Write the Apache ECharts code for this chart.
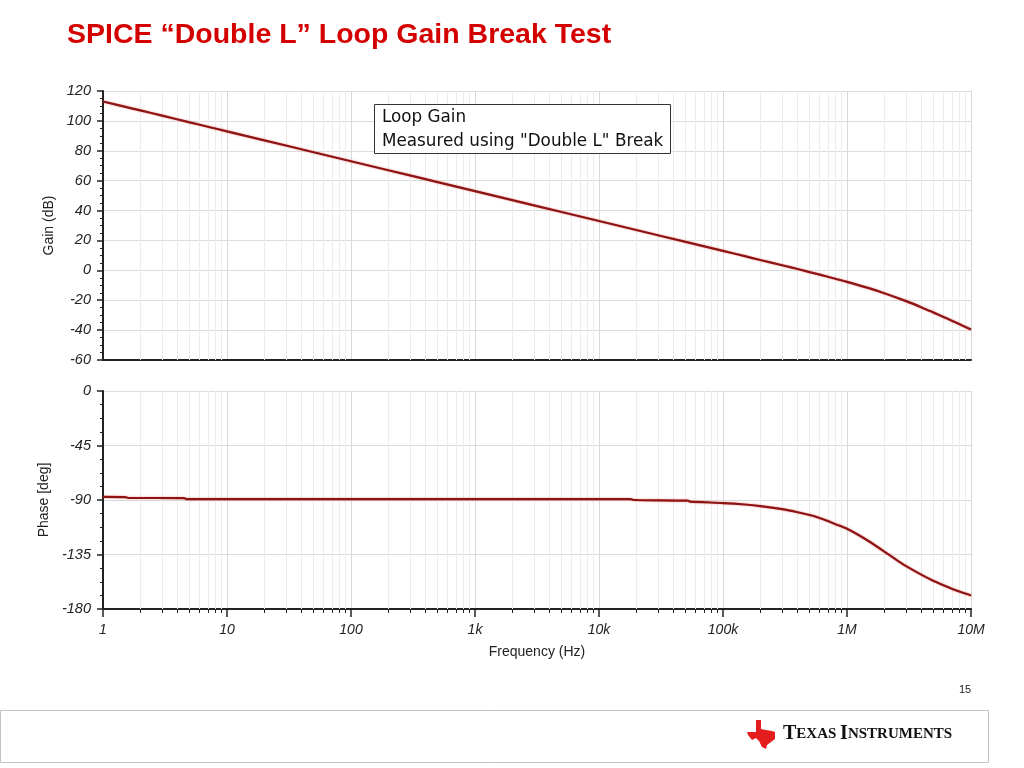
<!DOCTYPE html>
<html>
<head>
<meta charset="utf-8">
<script src="https://cdn.jsdelivr.net/npm/echarts@6/dist/echarts.min.js"></script>
<style>
  html, body { margin: 0; padding: 0; background: #fff; }
  #chart { width: 1024px; height: 768px; }
</style>
</head>
<body>
<div id="chart"></div>
<script>
// frequency points (Hz) and values
const gainFreq = [1, 1.7, 2, 3, 5, 7, 10, 20, 50, 100, 200, 500, 1e3, 2e3, 5e3, 1e4, 2e4, 5e4, 1e5, 1.5e5, 2e5, 3e5, 4e5, 5e5, 7e5, 1e6, 1.5e6, 2e6, 3e6, 4e6, 5e6, 6e6, 7e6, 8.5e6, 1e7];
const gainDb = [113, 108.4, 107, 103.5, 99, 96.1, 93, 87, 79, 73, 67, 59, 53, 47, 39, 33, 27, 19, 13, 9.5, 6.9, 3.4, 0.9, -1.2, -4.3, -7.7, -11.9, -15.3, -20.6, -24.8, -28.3, -31.2, -33.7, -36.9, -39.6];

const phaseFreq = [1, 1.5, 1.6, 4.5, 4.7, 10, 100, 1e3, 1e4, 1.8e4, 1.9e4, 5.2e4, 5.4e4, 1e5, 1.5e5, 2e5, 3e5, 4e5, 5e5, 6e5, 7e5, 8.5e5, 1e6, 1.2e6, 1.5e6, 2e6, 2.5e6, 3e6, 4e6, 5e6, 6e6, 7e6, 8.5e6, 1e7];
const phaseDeg = [-87.5, -87.6, -88.3, -88.4, -89.2, -89.2, -89.2, -89.2, -89.2, -89.3, -90.0, -90.5, -91.3, -92.5, -93.7, -95, -97.6, -100.1, -102.4, -104.8, -107.3, -110.8, -113.8, -118.1, -124.1, -132.6, -139.4, -144.6, -151.8, -156.8, -160.4, -163.2, -166.4, -168.8];

const xTickLabels = ['1', '10', '100', '1k', '10k', '100k', '1M', '10M'];
const gainTicks = [-60, 120, 20];   // min, max, interval
const phaseTicks = [-180, 0, 45];

// log-grid minor positions 2..9 per decade
const minorFreq = [];
for (let d = 1; d < 1e7; d *= 10) {
    for (let k = 2; k <= 9; k++) minorFreq.push(k * d);
}

const chart = echarts.init(document.getElementById('chart'));

const lineColor = '#8e1414';
const font = 'Liberation Sans, Arial, sans-serif';
const labelStyle = { color: '#222', fontSize: 14.5, fontStyle: 'italic', fontFamily: font };
const nameStyle = { color: '#222', fontSize: 14, fontFamily: font };
const minorLines = {
    silent: true,
    z: 1,
    symbol: 'none',
    label: { show: false },
    lineStyle: { color: '#ececec', type: 'solid', width: 1 },
    data: minorFreq.map(f => ({ xAxis: f }))
};

const option = {
    animation: false,
    title: {
        text: 'SPICE \u201cDouble L\u201d Loop Gain Break Test',
        left: 62,
        top: 16,
        textStyle: { color: '#d40000', fontSize: 28.5, fontWeight: 'bold', fontFamily: font }
    },
    grid: [
        { left: 103, right: 53, top: 91, height: 269 },
        { left: 103, right: 53, top: 391, height: 218 }
    ],
    xAxis: [
        {
            type: 'log', gridIndex: 0, min: 1, max: 1e7, logBase: 10, splitNumber: 7,
            axisLine: { onZero: false, lineStyle: { color: '#222', width: 2 } },
            axisTick: { show: false },
            axisLabel: { show: false },
            splitLine: { show: true, lineStyle: { color: '#d8d8d8' } }
        },
        {
            type: 'log', gridIndex: 1, min: 1, max: 1e7, logBase: 10, splitNumber: 7,
            position: 'bottom',
            name: 'Frequency (Hz)', nameLocation: 'middle', nameGap: 36,
            nameTextStyle: nameStyle,
            axisLine: { onZero: false, lineStyle: { color: '#222', width: 2 } },
            axisTick: { show: true, length: 8, lineStyle: { color: '#222', width: 1.5 } },
            axisLabel: Object.assign({}, labelStyle, {
                fontSize: 14,
                margin: 14,
                formatter: v => xTickLabels[Math.round(Math.log10(v))]
            }),
            splitLine: { show: true, lineStyle: { color: '#d8d8d8' } }
        },
        {
            type: 'log', gridIndex: 1, min: 1, max: 1e7, logBase: 10,
            position: 'bottom', offset: 0,
            axisLine: { show: false, onZero: false },
            axisTick: { show: true, length: 4, customValues: minorFreq, lineStyle: { color: '#222', width: 1 } },
            axisLabel: { show: false },
            splitLine: { show: false }
        }
    ],
    yAxis: [
        {
            type: 'value', gridIndex: 0, min: gainTicks[0], max: gainTicks[1], interval: gainTicks[2],
            name: 'Gain (dB)', nameLocation: 'middle', nameGap: 44,
            nameTextStyle: nameStyle,
            axisLine: { show: true, lineStyle: { color: '#222', width: 2 } },
            axisTick: { show: true, length: 6, lineStyle: { color: '#222', width: 1.5 } },
            minorTick: { show: true, splitNumber: 4, length: 3, lineStyle: { color: '#222' } },
            axisLabel: Object.assign({}, labelStyle, { margin: 12 }),
            splitLine: { show: true, lineStyle: { color: '#dcdcdc' } }
        },
        {
            type: 'value', gridIndex: 1, min: phaseTicks[0], max: phaseTicks[1], interval: phaseTicks[2],
            name: 'Phase [deg]', nameLocation: 'middle', nameGap: 44,
            nameTextStyle: nameStyle,
            axisLine: { show: true, lineStyle: { color: '#222', width: 2 } },
            axisTick: { show: true, length: 6, lineStyle: { color: '#222', width: 1.5 } },
            minorTick: { show: true, splitNumber: 4, length: 3, lineStyle: { color: '#222' } },
            axisLabel: Object.assign({}, labelStyle, { margin: 12 }),
            splitLine: { show: true, lineStyle: { color: '#dcdcdc' } }
        }
    ],
    series: [
        {
            name: 'Gain', type: 'line', xAxisIndex: 0, yAxisIndex: 0, z: 3,
            showSymbol: false, smooth: 0.3,
            lineStyle: { color: lineColor, width: 2.2, shadowColor: 'rgba(220,40,40,0.5)', shadowBlur: 2 },
            data: gainFreq.map((f, i) => [f, gainDb[i]]),
            markLine: minorLines
        },
        {
            name: 'Phase', type: 'line', xAxisIndex: 1, yAxisIndex: 1, z: 3,
            showSymbol: false, smooth: 0.2,
            lineStyle: { color: lineColor, width: 2.2, shadowColor: 'rgba(220,40,40,0.5)', shadowBlur: 2 },
            data: phaseFreq.map((f, i) => [f, phaseDeg[i]]),
            markLine: minorLines
        }
    ],
    graphic: [
        {
            type: 'rect', left: 374, top: 104, z: 10,
            shape: { width: 296, height: 49 },
            style: { fill: '#fff', stroke: '#333', lineWidth: 1 }
        },
        {
            type: 'text', left: 382, top: 109, z: 11,
            style: { text: 'Loop Gain', fill: '#111', font: '16.8px "DejaVu Sans", sans-serif' }
        },
        {
            type: 'text', left: 382, top: 133, z: 11,
            style: { text: 'Measured using "Double L" Break', fill: '#111', font: '16.8px "DejaVu Sans", sans-serif' }
        },
        {
            type: 'text', left: 959, top: 684,
            style: { text: '15', fill: '#222', font: '11px "Liberation Sans", Arial, sans-serif' }
        },
        {
            type: 'rect', left: -2, top: 708,
            shape: { width: 988, height: 52 },
            style: { fill: 'none', stroke: '#c4c4c4', lineWidth: 1 }
        },
        {
            type: 'polygon', left: 747, top: 720,
            shape: {
                points: [[9, 0], [14, 0], [14, 9], [19, 10], [25, 11], [28, 12], [28, 19], [24, 22], [20, 25], [19, 29], [15, 27], [12, 21], [9, 18], [5, 20], [1, 15], [0, 12], [9, 12]]
            },
            style: { fill: '#e41e1e' }
        },
        {
            type: 'text', left: 783, top: 724,
            style: {
                text: '{b|T}{s|EXAS }{b|I}{s|NSTRUMENTS}',
                rich: {
                    b: { fontSize: 20, fontWeight: 'bold', fill: '#111', fontFamily: 'Liberation Serif, serif' },
                    s: { fontSize: 15, fontWeight: 'bold', fill: '#111', fontFamily: 'Liberation Serif, serif' }
                }
            }
        }
    ]
};

chart.setOption(option);
</script>
</body>
</html>
